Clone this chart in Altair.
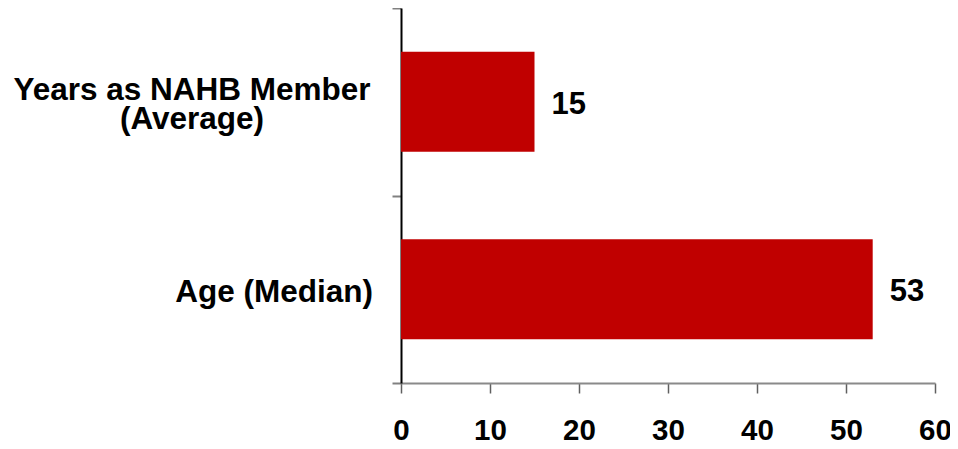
import altair as alt
import pandas as pd

categories = ["Years as NAHB Member (Average)", "Age (Median)"]
values = [15, 53]
label_text = ["Years as NAHB Member\n(Average)", "Age (Median)"]
x_ticks = [0, 10, 20, 30, 40, 50, 60]

df = pd.DataFrame({"cat": categories, "val": values, "label": label_text})

FONT = "Liberation Sans"
RED = "#C00000"

y_enc = alt.Y(
    "cat:N",
    sort=categories,
    scale=alt.Scale(paddingInner=0, paddingOuter=0),
    axis=alt.Axis(
        title=None,
        labels=False,
        grid=False,
        tickBand="extent",
        domainColor="#000000",
        domainWidth=2,
        tickColor="#808080",
        tickWidth=2,
        tickSize=9,
    ),
)

x_enc = alt.X(
    "val:Q",
    scale=alt.Scale(domain=[0, 60], nice=False),
    axis=alt.Axis(
        title=None,
        values=x_ticks,
        grid=False,
        domainColor="#8a8a8a",
        domainWidth=2,
        tickColor="#606060",
        tickWidth=1.5,
        tickSize=10,
        labelFont=FONT,
        labelFontSize=29.5,
        labelFontWeight="bold",
        labelColor="#000000",
        labelPadding=23,
        labelFlush=False,
    ),
)

base = alt.Chart(df)

bars = base.mark_bar(color=RED, height={"band": 0.533}).encode(x=x_enc, y=y_enc)

vals = base.mark_text(
    align="left", baseline="alphabetic", dx=17, dy=12,
    font=FONT, fontSize=31, fontWeight="bold", color="#000000",
).encode(x="val:Q", y=alt.Y("cat:N", sort=categories), text="val:Q")

lab_age = base.transform_filter(alt.datum.cat == "Age (Median)").mark_text(
    align="right", baseline="alphabetic", dy=13,
    font=FONT, fontSize=31.5, fontWeight="bold", color="#000000",
).encode(x=alt.value(-28), y=alt.Y("cat:N", sort=categories), text="label:N")

lab_years = base.transform_filter(alt.datum.cat != "Age (Median)").mark_text(
    align="center", baseline="alphabetic", lineBreak="\n", lineHeight=29, dy=-2,
    font=FONT, fontSize=31.5, fontWeight="bold", color="#000000",
).encode(x=alt.value(-209), y=alt.Y("cat:N", sort=categories), text="label:N")

chart = (
    alt.layer(bars, vals, lab_age, lab_years)
    .properties(
        width=534,
        height=375,
        autosize="none",
        padding={"left": 393, "top": 0, "right": 15, "bottom": 58},
        view=alt.ViewBackground(stroke="transparent", strokeOpacity=0, strokeWidth=0),
    )
    .configure_view(stroke="transparent", strokeOpacity=0, strokeWidth=0)
    .configure_axis(grid=False)
    .configure(background="#ffffff")
)

chart.save("out.html", embed_options={"renderer": "svg", "actions": False})
